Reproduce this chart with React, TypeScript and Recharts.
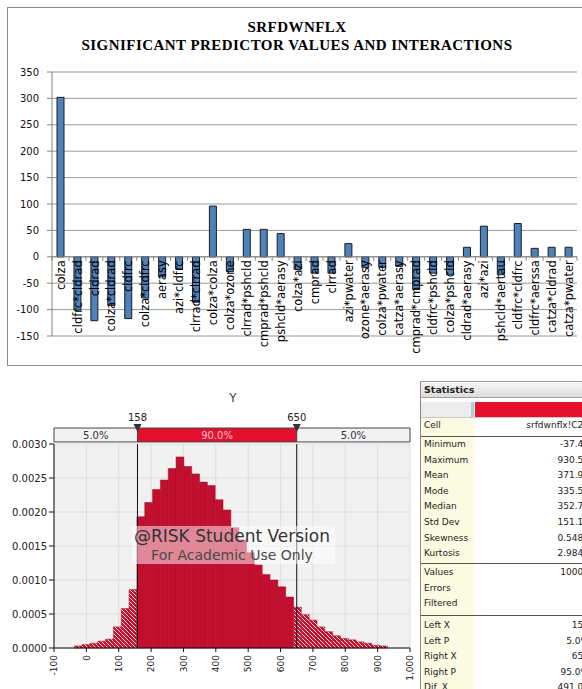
import { BarChart, Bar, XAxis, YAxis, CartesianGrid, ReferenceLine, ReferenceArea, LabelList, Cell } from 'recharts'

// top chart: predictor effects on SRFDWNFLX
const predictors = [
  'colza', 'cldfrc*cldrad', 'cldrad', 'colza*cldrad', 'cldfrc', 'colza*cldfrc', 'aerasy', 'azi*cldfrc',
  'clrrad*clrrad', 'colza*colza', 'colza*ozone', 'clrrad*pshcld', 'cmprad*pshcld', 'pshcld*aerasy',
  'colza*azi', 'cmprad', 'clrrad', 'azi*pwater', 'ozone*aerasy', 'colza*pwater', 'catza*aerasy',
  'cmprad*cmprad', 'cldfrc*pshcld', 'colza*pshcld', 'cldrad*aerasy', 'azi*azi', 'pshcld*aertau',
  'cldfrc*cldfrc', 'cldfrc*aerssa', 'catza*cldrad', 'catza*pwater',
]
const effects = [
  302, -101, -121, -92, -117, -78, -38, -23,
  -86, 96, -28, 52, 52, 44,
  -24, -31, -31, 25, -20, -20, -18,
  -62, -31, -34, 18, 58, -34,
  63, 16, 18, 18,
]
const effectTicks = [-150, -100, -50, 0, 50, 100, 150, 200, 250, 300, 350]

// bottom chart: @RISK histogram of Y
const binCenters = [
  -25.3, -1.1, 23.1, 47.3, 71.5, 95.7, 119.9, 144.1, 168.3, 192.5,
  216.7, 240.9, 265.1, 289.3, 313.5, 337.7, 361.9, 386.1, 410.3, 434.5,
  458.7, 482.9, 507.1, 531.3, 555.5, 579.7, 603.9, 628.1, 652.3, 676.5,
  700.7, 724.9, 749.1, 773.3, 797.5, 821.7, 845.9, 870.1, 894.3, 918.5,
]
const binDensity = [
  0.00003, 0.00005, 0.00007, 0.0001, 0.00013, 0.00031, 0.00058, 0.00086, 0.00193, 0.00214,
  0.00233, 0.00247, 0.00264, 0.00281, 0.00267, 0.00256, 0.00244, 0.00239, 0.00218, 0.00203,
  0.00177, 0.00159, 0.0014, 0.00122, 0.00108, 0.001, 0.0009, 0.00075, 0.0006, 0.00049,
  0.00041, 0.00031, 0.00024, 0.00018, 0.00014, 0.00012, 0.00009, 0.00007, 0.00004, 0.00003,
]
const xTicks = [-100, 0, 100, 200, 300, 400, 500, 600, 700, 800, 900, 1000]
const densityTicks = [0, 0.0005, 0.001, 0.0015, 0.002, 0.0025, 0.003]
const leftX = 158
const rightX = 650

// statistics panel
const statGroup1 = ['Minimum', 'Maximum', 'Mean', 'Mode', 'Median', 'Std Dev', 'Skewness', 'Kurtosis']
const statValues1 = ['-37.44', '930.55', '371.92', '335.52', '352.71', '151.13', '0.5482', '2.9841']
const statGroup2 = ['Values', 'Errors', 'Filtered']
const statValues2 = ['10000', '0', '0']
const statGroup3 = ['Left X', 'Left P', 'Right X', 'Right P', 'Dif. X']
const statValues3 = ['158', '5.0%', '650', '95.0%', '491.05']

const effectData = predictors.map((name, i) => ({ name, value: effects[i] }))
const histData = binCenters.map((x, i) => ({ x, density: binDensity[i] }))

const SLOT = (577 - 52) / predictors.length

function PredictorLabel(props: any) {
  const vb = props.viewBox ?? props
  const x = Number(props.x ?? vb.x)
  const y = Number(props.y ?? vb.y)
  const width = Number(props.width ?? vb.width)
  const height = Number(props.height ?? vb.height)
  const v = effects[props.index]
  const y0 = v >= 0 ? Math.max(y, y + height) : Math.min(y, y + height)
  const cx = x + width / 2
  const ty = y0 + 3.5
  return (
    <g>
      <line x1={cx + SLOT / 2} x2={cx + SLOT / 2} y1={y0} y2={y0 + 4} stroke="#868686" />
      {props.index === 0 && <line x1={cx - SLOT / 2} x2={cx - SLOT / 2} y1={y0} y2={y0 + 4} stroke="#868686" />}
      <text x={cx} y={ty} dy="0.36em" textAnchor="end" transform={`rotate(-90, ${cx}, ${ty})`}
        fontSize={11.5} fontFamily="DejaVu Sans, sans-serif" fill="#000">
        {predictors[props.index]}
      </text>
    </g>
  )
}

function PredictorChart() {
  return (
    <div style={{ position: 'absolute', left: 0, top: 0 }}>
      <div style={{ position: 'absolute', left: 7, top: 7, width: 620, height: 357, border: '1px solid #8a8a8a' }} />
      <div style={{ position: 'absolute', left: 0, top: 18, width: 594, textAlign: 'center', fontFamily: '"Liberation Serif", serif', fontWeight: 700, fontSize: 15, letterSpacing: 0.45, lineHeight: '18px', color: '#000' }}>
        SRFDWNFLX<br />SIGNIFICANT PREDICTOR VALUES AND INTERACTIONS
      </div>
      <BarChart width={582} height={372} data={effectData} margin={{ top: 72, right: 5, bottom: 36, left: 0 }}>
        <CartesianGrid vertical={false} stroke="#9a9a9a" />
        <XAxis dataKey="name" hide height={0} />
        <YAxis domain={[-150, 350]} ticks={effectTicks} interval={0} width={52} tickSize={5} tickMargin={8}
          axisLine={{ stroke: '#868686' }} tickLine={{ stroke: '#868686' }}
          tick={{ fill: '#111', fontSize: 10, fontFamily: 'DejaVu Sans, sans-serif' }} />
        <ReferenceLine y={0} stroke="#868686" />
        <Bar dataKey="value" fill="#4f81bd" stroke="#1c1c1c" strokeWidth={1} barSize={7} isAnimationActive={false}>
          <LabelList dataKey="name" content={(p: any) => <PredictorLabel {...p} />} />
        </Bar>
      </BarChart>
    </div>
  )
}

function DelimiterMarker(props: any) {
  const vb = props.viewBox ?? {}
  const x = Number(vb.x)
  const y = Number(vb.y)
  return (
    <g>
      <text x={x} y={y - 23} textAnchor="middle" fontSize={10} fontFamily="DejaVu Sans, sans-serif" fill="#222">{props.text}</text>
      <path d={`M${x - 4},${y - 20} L${x + 4},${y - 20} L${x},${y - 12} Z`} fill="#333" />
    </g>
  )
}

function XTick(props: any) {
  const { x, y, payload } = props
  return (
    <text x={x} y={y} dy="0.35em" textAnchor="end" transform={`rotate(-90, ${x}, ${y})`}
      fontSize={9} fontFamily="DejaVu Sans, sans-serif" fill="#222">
      {Number(payload.value).toLocaleString('en-US')}
    </text>
  )
}

function Histogram() {
  return (
    <div style={{ position: 'absolute', left: 0, top: 380, width: 420, height: 309 }}>
      <div style={{ position: 'absolute', left: 183, top: 11, width: 100, textAlign: 'center', fontFamily: 'DejaVu Sans, sans-serif', fontSize: 12, color: '#444' }}>Y</div>
      <BarChart width={420} height={309} data={histData} margin={{ top: 64, right: 10, bottom: 0, left: 0 }} barCategoryGap={0} barGap={0}>
        <defs>
          <pattern id="hatch" patternUnits="userSpaceOnUse" width="4" height="4">
            <rect width="4" height="4" fill="#c8102e" />
            <path d="M-1,-1 L5,5 M-1,3 L1,5 M3,-1 L5,1" stroke="#fbe3e6" strokeWidth="1" />
          </pattern>
        </defs>
        <CartesianGrid fill="#f1f1f1" stroke="#dddddd" />
        <XAxis dataKey="x" type="number" domain={[-100, 1000]} ticks={xTicks} interval={0} height={41}
          tickSize={4} tickMargin={3} axisLine={{ stroke: '#111' }} tickLine={{ stroke: '#111' }} tick={<XTick />} />
        <YAxis domain={[0, 0.003]} ticks={densityTicks} interval={0} width={54} tickSize={5} tickMargin={2}
          tickFormatter={(v: number) => v.toFixed(4)} axisLine={{ stroke: '#111' }} tickLine={{ stroke: '#111' }}
          tick={{ fill: '#222', fontSize: 10, fontFamily: 'DejaVu Sans, sans-serif' }} />
        <Bar dataKey="density" barSize={7.8} stroke="#a30a26" strokeWidth={0.5} isAnimationActive={false}>
          {histData.map((d) => (
            <Cell key={d.x} fill={d.x < leftX || d.x > rightX ? 'url(#hatch)' : '#c30f2e'} />
          ))}
        </Bar>
        <ReferenceArea x1={-100} x2={leftX} y1={0.00303} y2={0.003235} ifOverflow="visible" fill="#f2f2f2" fillOpacity={1} stroke="#444"
          label={{ value: '5.0%', position: 'center', fill: '#333', fontSize: 10, fontFamily: 'DejaVu Sans, sans-serif' }} />
        <ReferenceArea x1={leftX} x2={rightX} y1={0.00303} y2={0.003235} ifOverflow="visible" fill="#e3112e" fillOpacity={1} stroke="#444"
          label={{ value: '90.0%', position: 'center', fill: '#ffc2ca', fontSize: 10, fontFamily: 'DejaVu Sans, sans-serif' }} />
        <ReferenceArea x1={rightX} x2={1000} y1={0.00303} y2={0.003235} ifOverflow="visible" fill="#f2f2f2" fillOpacity={1} stroke="#444"
          label={{ value: '5.0%', position: 'center', fill: '#333', fontSize: 10, fontFamily: 'DejaVu Sans, sans-serif' }} />
        <ReferenceLine x={leftX} stroke="#111" label={(p: any) => <DelimiterMarker {...p} text={String(leftX)} />} />
        <ReferenceLine x={rightX} stroke="#111" label={(p: any) => <DelimiterMarker {...p} text={String(rightX)} />} />
      </BarChart>
      <div style={{ position: 'absolute', left: 132, top: 146, width: 203, height: 38, background: 'rgba(255,255,255,0.5)' }} />
      <div style={{ position: 'absolute', left: 92, top: 146, width: 280, textAlign: 'center', fontFamily: 'DejaVu Sans, sans-serif', fontSize: 17, lineHeight: '20px', color: '#333' }}>
        @RISK Student Version
      </div>
      <div style={{ position: 'absolute', left: 92, top: 166, width: 280, textAlign: 'center', fontFamily: 'DejaVu Sans, sans-serif', fontSize: 14, lineHeight: '18px', color: '#4a4a4a' }}>
        For Academic Use Only
      </div>
    </div>
  )
}

const ROW = 15.6
const textStyle = { fontFamily: 'DejaVu Sans, sans-serif', fontSize: 9, color: '#222' }

function StatRows({ labels, values, top }: { labels: string[]; values: string[]; top: number }) {
  return (
    <>
      {labels.map((l, i) => (
        <div key={l} style={{ position: 'absolute', left: 0, top: top + i * ROW, width: 200, height: ROW, lineHeight: `${ROW}px`, ...textStyle }}>
          <span style={{ position: 'absolute', left: 3 }}>{l}</span>
          <span style={{ position: 'absolute', left: 54, width: 114, textAlign: 'right' }}>{values[i]}</span>
        </div>
      ))}
    </>
  )
}

function StatsPanel() {
  const base = 381
  return (
    <div style={{ position: 'absolute', left: 420, top: base, width: 200, height: 320, borderLeft: '1px solid #8a8a8a', background: '#fff' }}>
      <div style={{ position: 'absolute', left: 0, top: 37, width: 53, height: 290, background: '#fbfbe2' }} />
      <div style={{ position: 'absolute', left: 0, top: 0, width: 200, height: 15, background: 'linear-gradient(#f7f7f7, #dcdcdc)', borderTop: '1px solid #a0a0a0', borderBottom: '1px solid #a0a0a0', ...textStyle, fontSize: 9.5, fontWeight: 700, lineHeight: '15px' }}>
        <span style={{ paddingLeft: 3 }}>Statistics</span>
      </div>
      <div style={{ position: 'absolute', left: 0, top: 21, width: 50, height: 15, background: '#ececec' }} />
      <div style={{ position: 'absolute', left: 50, top: 21, width: 3, height: 15, background: '#b9c9da' }} />
      <div style={{ position: 'absolute', left: 54, top: 21, width: 140, height: 15, background: '#e3112e' }} />
      <div style={{ position: 'absolute', left: 0, top: 36, width: 200, height: 1, background: '#c8c8c8' }} />
      <StatRows labels={['Cell']} values={['srfdwnflx!C25']} top={37} />
      <div style={{ position: 'absolute', left: 0, top: 55, width: 200, height: 1, background: '#555' }} />
      <StatRows labels={statGroup1} values={statValues1} top={56} />
      <div style={{ position: 'absolute', left: 0, top: 182, width: 200, height: 1, background: '#555' }} />
      <StatRows labels={statGroup2} values={statValues2} top={184} />
      <div style={{ position: 'absolute', left: 0, top: 234, width: 200, height: 1, background: '#555' }} />
      <StatRows labels={statGroup3} values={statValues3} top={237} />
    </div>
  )
}

export default function App() {
  return (
    <div style={{ position: 'absolute', left: 0, top: 0, width: 582, height: 689, overflow: 'hidden', background: '#fff' }}>
      <PredictorChart />
      <Histogram />
      <StatsPanel />
    </div>
  )
}
